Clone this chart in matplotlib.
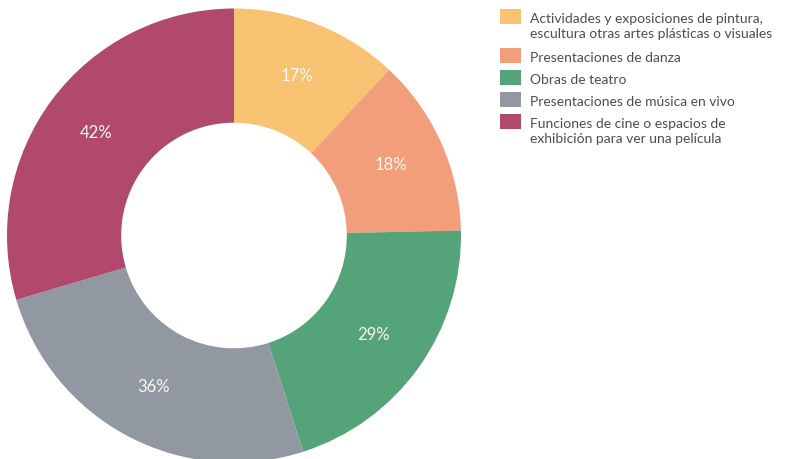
import matplotlib
matplotlib.use("Agg")
import matplotlib.pyplot as plt
from matplotlib.patches import Rectangle

categories = [
    "Actividades y exposiciones de pintura,\nescultura otras artes plásticas o visuales",
    "Presentaciones de danza",
    "Obras de teatro",
    "Presentaciones de música en vivo",
    "Funciones de cine o espacios de\nexhibición para ver una película",
]
values = [17, 18, 29, 36, 42]
colors = ["#F7C272", "#F29E7B", "#55A379", "#9198A2", "#B0496B"]

plt.rcParams['font.family'] = ['Lato', 'DejaVu Sans']

W, H = 787, 459
fig = plt.figure(figsize=(W / 100, H / 100), dpi=100)
cx, cy, r = 234, 235.5, 227
ax = fig.add_axes([(cx - r) / W, (H - cy - r) / H, 2 * r / W, 2 * r / H])
wedges, texts, autotexts = ax.pie(
    values, colors=colors, startangle=90, counterclock=False, radius=1,
    wedgeprops=dict(width=0.503, linewidth=0),
    autopct=lambda p: "", pctdistance=0.757,
)
for v, at in zip(values, autotexts):
    at.set_text(f"{v}%")
    at.set_color("#fbf7f2")
    at.set_fontsize(12)
ax.set_xlim(-1, 1)
ax.set_ylim(-1, 1)
ax.set_aspect("equal")
ax.axis("off")

# legend (manual, square aligned with first text line)
def fx(px):
    return px / W

def fy(py):
    return 1 - py / H

top = 9
for label, c in zip(categories, colors):
    lines = label.split("\n")
    fig.add_artist(Rectangle((fx(500), fy(top + 15)), 21 / W, 15 / H,
                             transform=fig.transFigure, facecolor=c,
                             edgecolor="none"))
    for i, ln in enumerate(lines):
        fig.text(fx(530), fy(top + 14 + 15.5 * i), ln, fontsize=10,
                 color="#4d4d4d", va="baseline", ha="left")
    top += 22 + 17 * (len(lines) - 1)

fig.savefig("out.png", dpi=100)
